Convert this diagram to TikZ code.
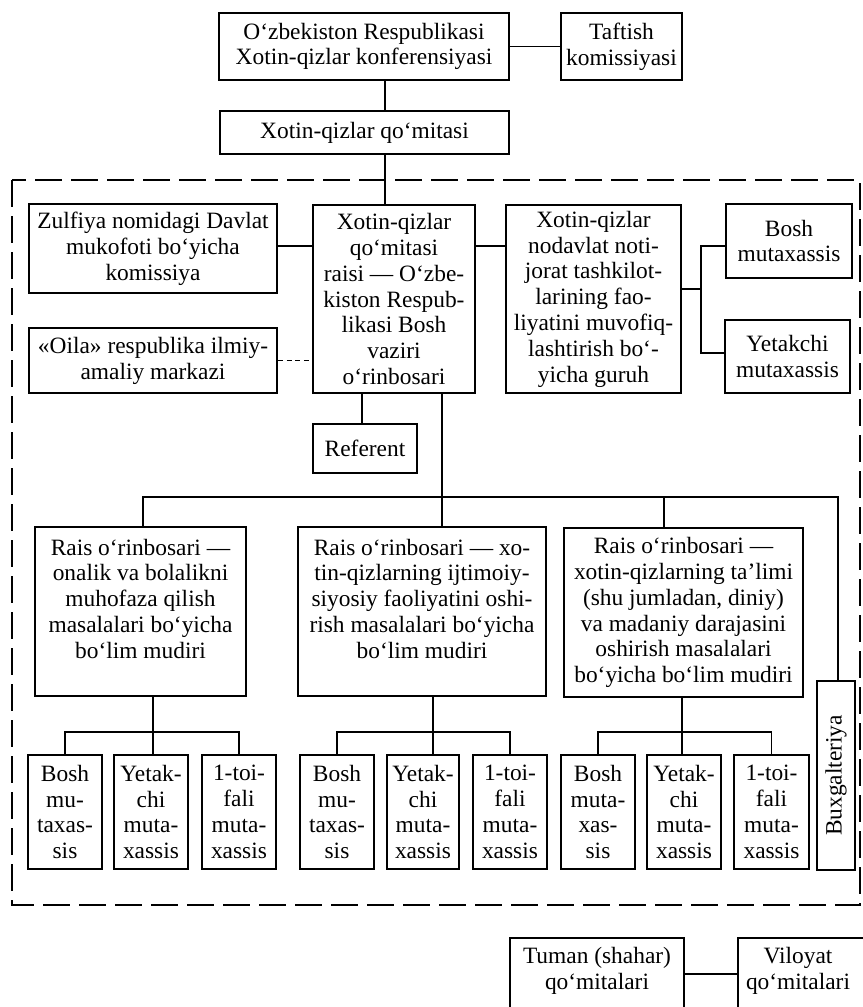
\documentclass[tikz,border=0pt]{standalone}
\usepackage{fontspec}
\usepackage{graphicx}
\setmainfont{Liberation Serif}
\begin{document}
\begin{tikzpicture}[x=0.5bp,y=-0.5bp,
  box/.style args={#1x#2}{draw, line width=1bp, inner sep=0pt, align=center,
    minimum width=#1*0.5bp, minimum height=#2*0.5bp,
    font=\fontsize{11.7bp}{12.9bp}\selectfont},
  txt/.style={inner sep=0pt, align=center, font=\fontsize{11.7bp}{12.9bp}\selectfont},
  link/.style={line width=0.95bp},
  dlink/.style={line width=0.7bp, dash pattern=on 2.5bp off 1.8bp},
  frame/.style={line width=1.15bp, dash pattern=on 13.5bp off 4.5bp}]
\useasboundingbox (0,0) rectangle (863,1007);
\clip (0,0) rectangle (863,1007);

% top
\node[box=290x67] (conf) at (364,46.5) {O‘zbekiston Respublikasi\\Xotin-qizlar konferensiyasi};
\node[box=121x67] (taft) at (621.5,46.5) {Taftish\\komissiyasi};
\node[box=289x43] (qom) at (364.5,132.5) {Xotin-qizlar qo‘mitasi};

% dashed frame
\draw[frame] (12,180) rectangle (860,905);

% second level
\node[box=248x89] (zulf) at (153,248.5) {Zulfiya nomidagi Davlat\\mukofoti bo‘yicha\\komissiya};
\node[box=162x188] (rais) at (394,299) {Xotin-qizlar\\qo‘mitasi\\raisi — O‘zbe-\\kiston Respub-\\likasi Bosh\\vaziri\\o‘rinbosari};
\node[box=248x65] (oila) at (153,360.5) {«Oila» respublika ilmiy-\\amaliy markazi};
\node[box=175x188] (guruh) at (593.5,299) {Xotin-qizlar\\nodavlat noti-\\jorat tashkilot-\\larining fao-\\liyatini muvofiq-\\lashtirish bo‘-\\yicha guruh};
\node[box=126x74] (bosh0) at (789,241) {Bosh\\mutaxassis};
\node[box=125x73] (yet0) at (787.5,356.5) {Yetakchi\\mutaxassis};
\node[box=104x49] (ref) at (365,448.5) {Referent};

% departments
\node[box=211x169] (d1) at (140.5,611.5) {Rais o‘rinbosari —\\onalik va bolalikni\\muhofaza qilish\\masalalari bo‘yicha\\bo‘lim mudiri\\\mbox{}};
\node[box=248x169] (d2) at (422,611.5) {Rais o‘rinbosari — xo-\\tin-qizlarning ijtimoiy-\\siyosiy faoliyatini oshi-\\rish masalalari bo‘yicha\\bo‘lim mudiri\\\mbox{}};
\node[box=239x169] (d3) at (683.5,612.5) {Rais o‘rinbosari —\\xotin-qizlarning ta’limi\\(shu jumladan, diniy)\\va madaniy darajasini\\oshirish masalalari\\bo‘yicha bo‘lim mudiri};
\node[box=38x189] (bux) at (836,775.5) {\rotatebox{90}{Buxgalteriya}};

% specialists
\node[box=74x114] (s11) at (65,812) {Bosh\\mu-\\taxas-\\sis};
\node[box=74x114] (s12) at (151,812) {Yetak-\\chi\\muta-\\xassis};
\node[box=74x114] (s13) at (239,812) {1-toi-\\fali\\muta-\\xassis};
\node[box=74x114] (s21) at (337,812) {Bosh\\mu-\\taxas-\\sis};
\node[box=72x114] (s22) at (423,812) {Yetak-\\chi\\muta-\\xassis};
\node[box=74x114] (s23) at (510,812) {1-toi-\\fali\\muta-\\xassis};
\node[box=74x114] (s31) at (598,812) {Bosh\\muta-\\xas-\\sis};
\node[box=74x114] (s32) at (684,812) {Yetak-\\chi\\muta-\\xassis};
\node[box=75x114] (s33) at (771.5,812) {1-toi-\\fali\\muta-\\xassis};

% bottom
\node[box=174x140, anchor=north] (tumanbox) at (597,937) {};
\node[txt] (tuman) at (597,971) {Tuman (shahar)\\qo‘mitalari};
\node[box=170x140, anchor=north west] (vilbox) at (737,937) {};
\node[txt] (vil) at (798,971) {Viloyat\\qo‘mitalari};

% coordinates
\coordinate (tx) at (385,0);
\coordinate (ylink) at (0,246);
\coordinate (g1) at (701,246);
\coordinate (g2) at (701,353);
\coordinate (gm) at (701,289);
\coordinate (rx) at (362,0);
\coordinate (tk) at (442,497);
\coordinate (bl) at (143,497);
\coordinate (br) at (838,497);
\coordinate (b3) at (664,497);
\coordinate (sy) at (0,732);
\coordinate (dr1) at (153,0);
\coordinate (dr2) at (433,0);
\coordinate (dr3) at (682,0);
\coordinate (tv) at (0,974);

% connectors
\draw[link] (conf.east) -- (taft.west);
\draw[link] (conf.south -| tx) -- (qom.north -| tx);
\draw[link] (qom.south -| tx) -- (rais.north -| tx);
\draw[link] (zulf.east |- ylink) -- (rais.west |- ylink);
\draw[dlink] (oila.east) -- (oila.east -| rais.west);
\draw[link] (rais.east |- ylink) -- (guruh.west |- ylink);
\draw[link] (guruh.east |- gm) -- (gm);
\draw[link] (bosh0.west |- g1) -- (g1) -- (g2) -- (yet0.west |- g2);
\draw[link] (rais.south -| rx) -- (ref.north -| rx);
\draw[link] (rais.south -| tk) -- (d2.north -| tk);
\draw[link] (d1.north -| bl) -- (bl) -- (br) -- (bux.north -| br);
\draw[link] (b3) -- (d3.north -| b3);

\draw[link] (d1.south -| dr1) -- (dr1 |- sy);
\draw[link] (s11.north) -- (s11.north |- sy) -- (s13.north |- sy) -- (s13.north);
\draw[link] (dr1 |- sy) -- (s12.north -| dr1);
\draw[link] (d2.south -| dr2) -- (s22.north -| dr2);
\draw[link] (s21.north) -- (s21.north |- sy) -- (s23.north |- sy) -- (s23.north);
\draw[link] (d3.south -| dr3) -- (s32.north -| dr3);
\draw[link] (s31.north) -- (s31.north |- sy) -- (s33.north |- sy) -- (s33.north);

\draw[link] (tumanbox.east |- tv) -- (vilbox.west |- tv);
\end{tikzpicture}
\end{document}
